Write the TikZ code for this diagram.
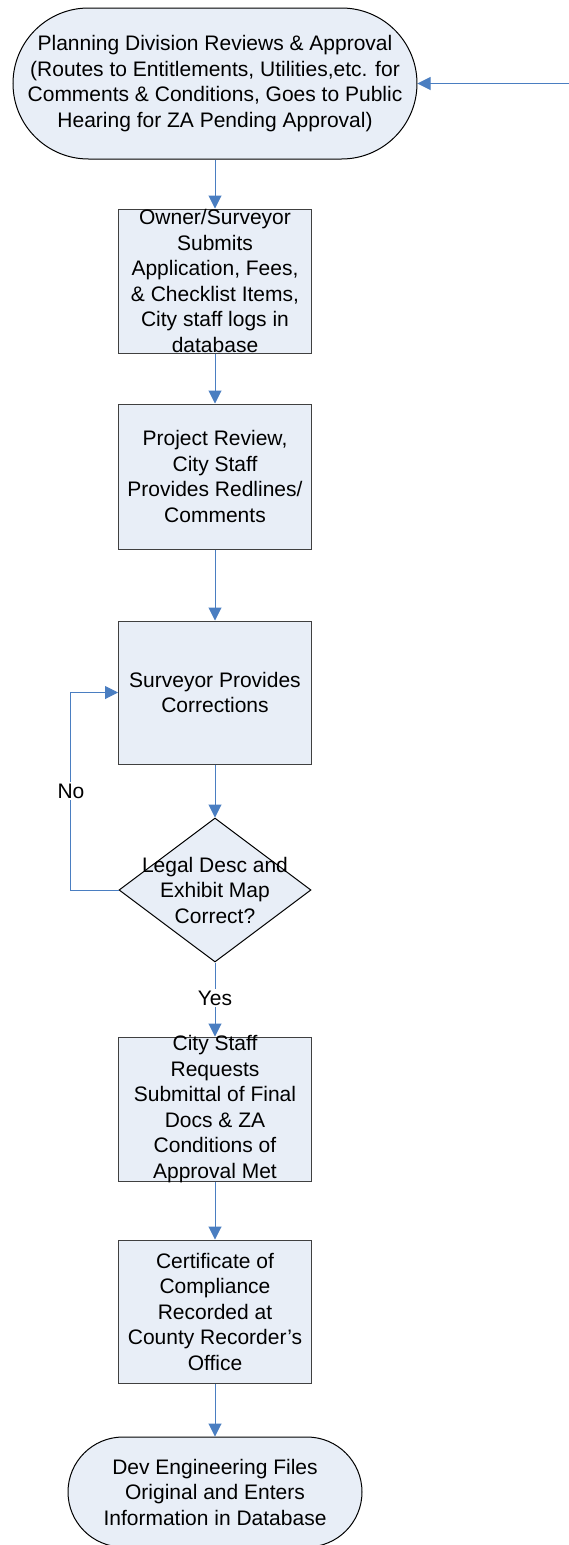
\documentclass[tikz,border=0pt]{standalone}
\usepackage{fontspec}
\setmainfont{Liberation Sans}
\usetikzlibrary{arrows.meta,shapes.geometric,shapes.misc}
\definecolor{fillblue}{RGB}{232,238,247}
\definecolor{linkblue}{RGB}{74,126,193}
\definecolor{edgegray}{RGB}{64,64,64}
\begin{document}
\begin{tikzpicture}[x=1pt,y=-1pt,
  txt/.style={font=\fontsize{21}{25.5}\selectfont, align=center, inner sep=0pt, text=black},
  procbox/.style={draw=edgegray, line width=1pt, fill=fillblue, minimum width=193pt, minimum height=144pt, inner sep=0pt},
  termbox/.style={rounded rectangle, draw=black, line width=1pt, fill=fillblue, inner sep=0pt},
  decbox/.style={diamond, draw=black, line width=1pt, fill=fillblue, inner sep=0pt, minimum width=192pt, minimum height=144pt},
  link/.style={draw=linkblue, line width=1pt, -{Triangle[length=13pt,width=13pt]}},
  lbl/.style={txt, fill=white, inner sep=2pt}]
\fill[white] (0,0) rectangle (569,1545);
\useasboundingbox (0,0) rectangle (569,1545);

% shapes
\node[termbox, minimum width=404pt, minimum height=151pt] (t1) at (215,83.5) {};
\node[procbox] (b2) at (215,281) {};
\node[procbox, minimum height=145pt] (b3) at (215,476.5) {};
\node[procbox, minimum height=143pt] (b4) at (215,692.5) {};
\node[decbox] (dec) at (215,890) {};
\node[procbox] (b5) at (215,1109) {};
\node[procbox, minimum height=143pt] (b6) at (215,1311.5) {};
\node[termbox, minimum width=294pt, minimum height=110pt] (t2) at (215,1492) {};

% texts
\node[txt] (t1txt) at (t1) {Planning Division Reviews \& Approval\\(Routes to Entitlements, Utilities,etc. for\\Comments \& Conditions, Goes to Public\\Hearing for ZA Pending Approval)};
\node[txt] (b2txt) at (b2) {Owner/Surveyor\\Submits\\Application, Fees,\\\& Checklist Items,\\City staff logs in\\database};
\node[txt] (b3txt) at (b3) {Project Review,\\City Staff\\Provides Redlines/\\Comments};
\node[txt] (b4txt) at (b4) {Surveyor Provides\\Corrections};
\node[txt] (dectxt) at (dec) {Legal Desc and\\Exhibit Map\\Correct?};
\node[txt] (b5txt) at (b5) {City Staff\\Requests\\Submittal of Final\\Docs \& ZA\\Conditions of\\Approval Met};
\node[txt] (b6txt) at (b6) {Certificate of\\Compliance\\Recorded at\\County Recorder’s\\Office};
\node[txt] (t2txt) at (t2) {Dev Engineering Files\\Original and Enters\\Information in Database};

% connectors
\coordinate (rin) at (569,83.5);
\draw[link] (rin) -- (t1.east);
\draw[link] (t1.south) -- (b2.north);
\draw[link] (b2.south) -- (b3.north);
\draw[link] (b3.south) -- (b4.north);
\draw[link] (b4.south) -- (dec.north);
\draw[link] (dec.west) -- ++(-48,0) |- (b4.west);
\draw[link] (dec.south) -- (b5.north);
\draw[link] (b5.south) -- (b6.north);
\draw[link] (b6.south) -- (t2.north);

% labels
\node[lbl] (no) at (71,791) {No};
\node[lbl] (yes) at (215,998) {Yes};
\end{tikzpicture}
\end{document}
